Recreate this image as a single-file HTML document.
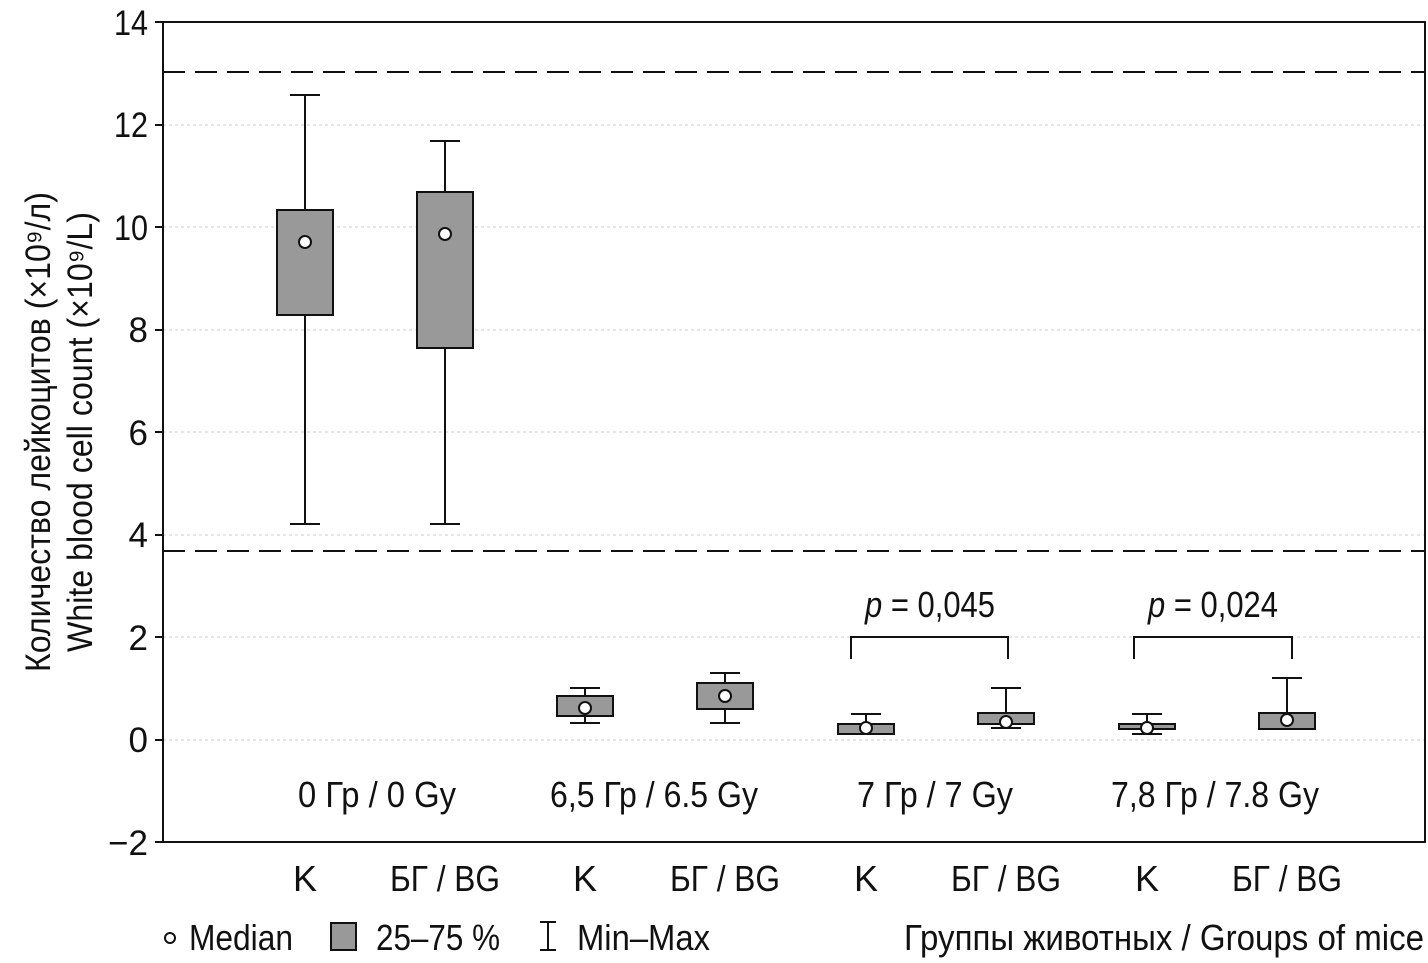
<!DOCTYPE html>
<html><head><meta charset="utf-8"><style>
body{margin:0;background:#fff}
svg text{font-family:"Liberation Sans Narrow","Liberation Sans",sans-serif;fill:#111}
</style></head><body>
<svg width="1428" height="958" viewBox="0 0 1428 958" xmlns="http://www.w3.org/2000/svg">
<g stroke="#ccc" stroke-width="1" stroke-dasharray="3,3">
<line x1="163" x2="1425" y1="125" y2="125"/><line x1="163" x2="1425" y1="227" y2="227"/>
<line x1="163" x2="1425" y1="330" y2="330"/><line x1="163" x2="1425" y1="432" y2="432"/>
<line x1="163" x2="1425" y1="535" y2="535"/><line x1="163" x2="1425" y1="637" y2="637"/>
<line x1="163" x2="1425" y1="740" y2="740"/>
</g>
<g stroke="#111" stroke-width="2" stroke-dasharray="22,10">
<line x1="163" x2="1425" y1="72" y2="72"/><line x1="163" x2="1425" y1="551" y2="551"/>
</g>
<rect x="163" y="22" width="1262" height="820" fill="none" stroke="#111" stroke-width="2"/>
<g stroke="#111" stroke-width="2">
<line x1="155" x2="163" y1="22" y2="22"/><line x1="155" x2="163" y1="125" y2="125"/><line x1="155" x2="163" y1="227" y2="227"/><line x1="155" x2="163" y1="330" y2="330"/><line x1="155" x2="163" y1="432" y2="432"/><line x1="155" x2="163" y1="535" y2="535"/><line x1="155" x2="163" y1="637" y2="637"/><line x1="155" x2="163" y1="740" y2="740"/><line x1="155" x2="163" y1="842" y2="842"/>
</g>
<g font-size="35" text-anchor="end">
<text x="148" y="35" textLength="34" lengthAdjust="spacingAndGlyphs">14</text><text x="148" y="137" textLength="34" lengthAdjust="spacingAndGlyphs">12</text><text x="148" y="240" textLength="34" lengthAdjust="spacingAndGlyphs">10</text><text x="148" y="342">8</text><text x="148" y="445">6</text><text x="148" y="547">4</text><text x="148" y="650">2</text><text x="148" y="752">0</text><text x="148" y="855">−2</text>
</g>
<g font-size="35" text-anchor="middle">
<text transform="translate(50,432) rotate(-90)" textLength="480" lengthAdjust="spacingAndGlyphs">Количество лейкоцитов (×10⁹/л)</text>
<text transform="translate(92,432) rotate(-90)" textLength="440" lengthAdjust="spacingAndGlyphs">White blood cell count (×10⁹/L)</text>
</g>
<g stroke="#111" stroke-width="2" fill="#999">
<line x1="305" x2="305" y1="95" y2="524"/><line x1="290" x2="320" y1="95" y2="95"/><line x1="290" x2="320" y1="524" y2="524"/>
<rect x="277" y="210" width="56" height="105"/>
<line x1="445" x2="445" y1="141" y2="524"/><line x1="430" x2="460" y1="141" y2="141"/><line x1="430" x2="460" y1="524" y2="524"/>
<rect x="417" y="192" width="56" height="156"/>
<line x1="585" x2="585" y1="688" y2="723"/><line x1="570" x2="600" y1="688" y2="688"/><line x1="570" x2="600" y1="723" y2="723"/>
<rect x="557" y="696" width="56" height="20"/>
<line x1="725" x2="725" y1="673" y2="723"/><line x1="710" x2="740" y1="673" y2="673"/><line x1="710" x2="740" y1="723" y2="723"/>
<rect x="697" y="683" width="56" height="26"/>
<line x1="866" x2="866" y1="714" y2="734"/><line x1="851" x2="881" y1="714" y2="714"/>
<rect x="838" y="724" width="56" height="10"/>
<line x1="1006" x2="1006" y1="688" y2="728"/><line x1="991" x2="1021" y1="688" y2="688"/><line x1="991" x2="1021" y1="728" y2="728"/>
<rect x="978" y="713" width="56" height="11"/>
<line x1="1147" x2="1147" y1="714" y2="734"/><line x1="1132" x2="1162" y1="714" y2="714"/><line x1="1132" x2="1162" y1="734" y2="734"/>
<rect x="1119" y="724" width="56" height="5"/>
<line x1="1287" x2="1287" y1="678" y2="729"/><line x1="1272" x2="1302" y1="678" y2="678"/>
<rect x="1259" y="713" width="56" height="16"/>
</g>
<g fill="#fff" stroke="#111" stroke-width="2">
<circle cx="305" cy="242" r="6"/><circle cx="445" cy="234" r="6"/><circle cx="585" cy="708" r="6"/><circle cx="725" cy="696" r="6"/><circle cx="866" cy="728" r="6"/><circle cx="1006" cy="722" r="6"/><circle cx="1147" cy="728" r="6"/><circle cx="1287" cy="720" r="6"/>
</g>
<g stroke="#111" stroke-width="2" fill="none">
<polyline points="851,659 851,637 1008,637 1008,659"/>
<polyline points="1134,659 1134,637 1292,637 1292,659"/>
</g>
<g font-size="36" text-anchor="middle">
<text x="930" y="617" textLength="130" lengthAdjust="spacingAndGlyphs"><tspan font-style="italic">p</tspan> = 0,045</text>
<text x="1213" y="617" textLength="130" lengthAdjust="spacingAndGlyphs"><tspan font-style="italic">p</tspan> = 0,024</text>
<text x="377" y="807" textLength="158" lengthAdjust="spacingAndGlyphs">0 Гр / 0 Gy</text>
<text x="654" y="807" textLength="208" lengthAdjust="spacingAndGlyphs">6,5 Гр / 6.5 Gy</text>
<text x="935" y="807" textLength="156" lengthAdjust="spacingAndGlyphs">7 Гр / 7 Gy</text>
<text x="1215" y="807" textLength="208" lengthAdjust="spacingAndGlyphs">7,8 Гр / 7.8 Gy</text>
<text x="305" y="891">K</text><text x="445" y="891" textLength="110" lengthAdjust="spacingAndGlyphs">БГ / BG</text>
<text x="585" y="891">K</text><text x="725" y="891" textLength="110" lengthAdjust="spacingAndGlyphs">БГ / BG</text>
<text x="866" y="891">K</text><text x="1006" y="891" textLength="110" lengthAdjust="spacingAndGlyphs">БГ / BG</text>
<text x="1147" y="891">K</text><text x="1287" y="891" textLength="110" lengthAdjust="spacingAndGlyphs">БГ / BG</text>
</g>
<circle cx="170" cy="938" r="5" fill="#fff" stroke="#111" stroke-width="2"/>
<rect x="331" y="923" width="25" height="27" fill="#999" stroke="#111" stroke-width="2"/>
<g stroke="#111" stroke-width="2"><line x1="548" x2="548" y1="922" y2="950"/><line x1="540" x2="556" y1="922" y2="922"/><line x1="540" x2="556" y1="950" y2="950"/></g>
<g font-size="36">
<text x="189" y="950" textLength="104" lengthAdjust="spacingAndGlyphs">Median</text>
<text x="376" y="950" textLength="124" lengthAdjust="spacingAndGlyphs">25–75 %</text>
<text x="577" y="950" textLength="133" lengthAdjust="spacingAndGlyphs">Min–Max</text>
<text x="904" y="950" textLength="520" lengthAdjust="spacingAndGlyphs">Группы животных / Groups of mice</text>
</g>
</svg>
</body></html>
